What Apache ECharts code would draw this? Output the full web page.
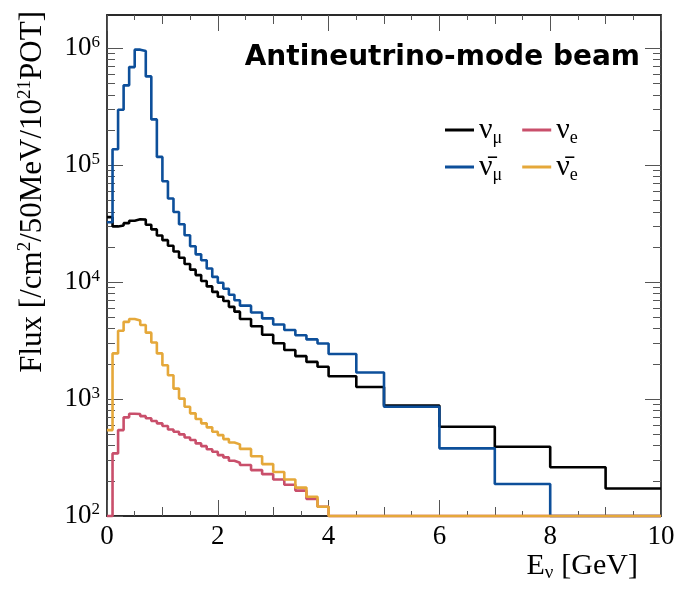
<!DOCTYPE html>
<html>
<head>
<meta charset="utf-8">
<script src="https://cdn.jsdelivr.net/npm/echarts@6/dist/echarts.min.js"></script>
<style>
  html, body { margin: 0; padding: 0; background: #fff; }
  #chartmain { width: 683px; height: 591px; }
</style>
</head>
<body>
<div id="chartmain"></div>
<script>
// bin edges in GeV (variable binning)
var binEdges = [0, 0.1, 0.2, 0.3, 0.4, 0.5, 0.6, 0.7, 0.8, 0.9, 1.0, 1.1, 1.2, 1.3, 1.4, 1.5, 1.6, 1.7, 1.8, 1.9,
    2.0, 2.1, 2.2, 2.3, 2.4, 2.6, 2.8, 3.0, 3.2, 3.4, 3.6, 3.8, 4.0, 4.5, 5, 6, 7, 8, 9, 10];

// flux per bin [/cm2/50MeV/1e21 POT]
var numu = [36000, 30000, 30500, 32000, 33500, 34500, 34300, 31000, 28300, 25100, 22900, 20500, 18300, 16200,
    14300, 12800, 11500, 10250, 9200, 8260, 7500, 6900, 6150, 5600, 4850, 4200, 3550, 3000, 2630, 2330, 2080,
    1890, 1570, 1270, 880, 580, 391, 261, 172];
var numubar = [32600, 137000, 299000, 483000, 692000, 975000, 950000, 576000, 247000, 118000, 73000, 52000,
    39900, 31300, 25200, 20300, 17300, 15400, 13100, 11100, 9900, 8800, 7800, 7000, 6300, 5500, 4900, 4350,
    3900, 3520, 3240, 2990, 2430, 1690, 860, 379, 188, 0, 0];
var nue = [0, 343, 543, 698, 750, 745, 715, 685, 650, 620, 588, 550, 526, 499, 470, 447, 418, 396, 372, 355,
    332, 317, 297, 286, 273, 247, 228, 205, 185, 165, 140, 120, 0, 0, 0, 0, 0, 0, 0];
var nuebar = [543, 2460, 3840, 4580, 4850, 4700, 4300, 3700, 3050, 2460, 1950, 1600, 1230, 1010, 860, 755,
    675, 620, 573, 526, 492, 455, 425, 410, 375, 324, 278, 238, 205, 175, 146, 120, 0, 0, 0, 0, 0, 0, 0];

// axis ticks
var xMajor = [0, 2, 4, 6, 8, 10];
var xSecond = [1, 3, 5, 7, 9];
var yMajor = [100, 1000, 10000, 100000, 1000000];
var yMinor = [200, 300, 400, 500, 600, 700, 800, 900, 2000, 3000, 4000, 5000, 6000, 7000, 8000, 9000,
    20000, 30000, 40000, 50000, 60000, 70000, 80000, 90000, 200000, 300000, 400000, 500000, 600000, 700000,
    800000, 900000];

var yMin = 100, yMax = 1.93e6;

// histogram -> step line points (empty bins sit on the frame like ROOT)
function histPoints(vals) {
    var pts = [];
    for (var i = 0; i < vals.length; i++) {
        var v = Math.max(vals[i], yMin);
        pts.push([binEdges[i], v]);
        pts.push([binEdges[i + 1], v]);
    }
    return pts;
}

var serif = 'Liberation Serif';
var frameColor = '#2a2a2a';
var tickColor = '#555';

function xAx(pos, ticks, len, withLine, withLabel) {
    return {
        type: 'value', position: pos, min: 0, max: 10,
        axisLine: {show: withLine, onZero: false, lineStyle: {color: frameColor, width: 1.8}},
        axisTick: {show: true, inside: true, length: len, customValues: ticks, lineStyle: {color: tickColor, width: 1}},
        minorTick: {show: withLine, splitNumber: 4, length: 5, lineStyle: {color: tickColor, width: 1}},
        axisLabel: {show: withLabel, customValues: xMajor, fontFamily: serif, fontSize: 27, color: '#000', margin: 7},
        splitLine: {show: false}
    };
}

function yAx(pos, ticks, len, withLine, withLabel) {
    return {
        type: 'log', logBase: 10, position: pos, min: yMin, max: yMax,
        axisLine: {show: withLine, onZero: false, lineStyle: {color: frameColor, width: 1.8}},
        axisTick: {show: true, inside: true, length: len, customValues: ticks, lineStyle: {color: tickColor, width: 1}},
        axisLabel: {
            show: withLabel, customValues: yMajor, margin: 7, color: '#000',
            fontFamily: serif, fontSize: 27,
            formatter: function (v) {
                return '10{e|' + Math.round(Math.log10(v)) + '}';
            },
            rich: {e: {fontFamily: serif, fontSize: 17, verticalAlign: 'top', padding: [0, 0, 12, 0]}}
        },
        splitLine: {show: false}
    };
}

var legendText = {
    numu: '{n|ν}{s|μ}',
    nue: '{n|ν}{s|e}',
    numubar: '{n|ν\u0304}{s|μ}',
    nuebar: '{n|ν\u0304}{s|e}'
};

function legendRow(names, top) {
    return {
        data: names,
        left: 440, top: top,
        icon: 'rect', itemWidth: 29, itemHeight: 3, itemGap: 20,
        formatter: function (name) { return legendText[name]; },
        textStyle: {
            color: '#000',
            rich: {
                n: {fontFamily: serif, fontSize: 30, lineHeight: 14},
                s: {fontFamily: serif, fontSize: 18, lineHeight: 2, padding: [16, 0, 0, 0]}
            }
        }
    };
}

function histSeries(name, vals, color) {
    return {
        name: name, type: 'line', data: histPoints(vals),
        xAxisIndex: 0, yAxisIndex: 0,
        symbol: 'none', clip: false,
        lineStyle: {color: color, width: 2.6},
        itemStyle: {color: color}
    };
}

var myChart = echarts.init(document.getElementById('chartmain'));
var option = {
    backgroundColor: '#fff',
    animation: false,
    grid: {left: 107, right: 22, top: 15, bottom: 75},
    xAxis: [
        xAx('bottom', xMajor, 16, true, true),
        xAx('bottom', xSecond, 9, false, false),
        xAx('top', xMajor, 16, true, false),
        xAx('top', xSecond, 9, false, false)
    ],
    yAxis: [
        yAx('left', yMajor, 16, true, true),
        yAx('left', yMinor, 8, false, false),
        yAx('right', yMajor, 16, true, false),
        yAx('right', yMinor, 8, false, false)
    ],
    legend: [
        legendRow(['numu', 'nue'], 108),
        legendRow(['numubar', 'nuebar'], 145)
    ],
    graphic: [
        {
            type: 'text', right: 43, top: 44,
            style: {text: 'Antineutrino-mode beam', fontFamily: 'DejaVu Sans', fontWeight: 'bold', fontSize: 28, fill: '#000'}
        },
        {
            type: 'text', right: 45, top: 551,
            style: {
                text: '{a|E}{s|ν}{a|[GeV]}', fill: '#000',
                rich: {
                    a: {fontFamily: serif, fontSize: 30},
                    s: {fontFamily: serif, fontSize: 19, padding: [14, 8, 0, 0]}
                }
            }
        },
        {
            type: 'text', left: 16, top: 11, rotation: Math.PI / 2,
            style: {
                text: '{a|Flux [/cm}{p|2}{a|/50MeV/10}{p|21}{a|POT]}', fill: '#000',
                rich: {
                    a: {fontFamily: serif, fontSize: 31},
                    p: {fontFamily: serif, fontSize: 19, padding: [0, 0, 14, 0]}
                }
            }
        }
    ],
    series: [
        histSeries('numu', numu, '#000000'),
        histSeries('numubar', numubar, '#0d4f9a'),
        histSeries('nue', nue, '#c94f6b'),
        histSeries('nuebar', nuebar, '#e5a83a')
    ]
};
myChart.setOption(option);
</script>
</body>
</html>
